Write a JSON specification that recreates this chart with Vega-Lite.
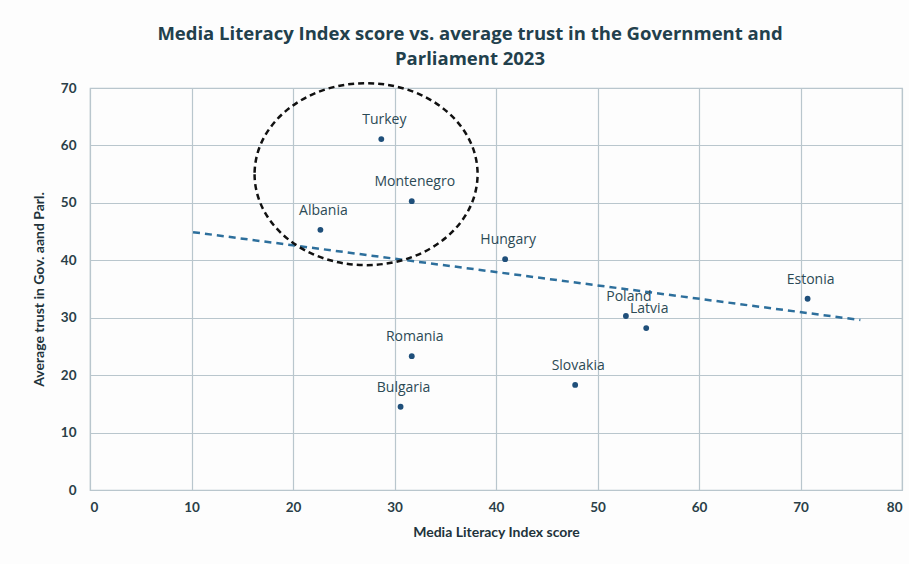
{
  "$schema": "https://vega.github.io/schema/vega-lite/v6.json",
  "width": 812,
  "height": 402,
  "autosize": {"type": "none"},
  "padding": {"left": 90, "top": 88, "right": 7, "bottom": 74},
  "background": "#fdfdfd",
  "title": {
    "text": ["Media Literacy Index score vs. average trust in the Government and", "Parliament 2023"],
    "font": "Open Sans",
    "fontSize": 18.5,
    "fontWeight": "bold",
    "color": "#22404c",
    "anchor": "middle",
    "dx": -26,
    "offset": 10,
    "lineHeight": 25
  },
  "config": {
    "view": {"stroke": "#b9c6cd", "strokeWidth": 1.2},
    "axis": {
      "labelFont": "Lato",
      "labelFontSize": 13.5,
      "labelFontWeight": "bold",
      "labelColor": "#2a3f48",
      "titleFont": "Lato",
      "titleFontSize": 14,
      "titleFontWeight": "bold",
      "titleColor": "#22333b",
      "gridColor": "#b9c6cd",
      "gridWidth": 1.2,
      "gridOpacity": 1,
      "domain": false,
      "ticks": false
    }
  },
  "datasets": {
    "countries": [
      {"country": "Turkey", "mli": 28.7, "trust": 61.1},
      {"country": "Montenegro", "mli": 31.7, "trust": 50.3},
      {"country": "Albania", "mli": 22.7, "trust": 45.3},
      {"country": "Hungary", "mli": 40.9, "trust": 40.2},
      {"country": "Estonia", "mli": 70.7, "trust": 33.3},
      {"country": "Poland", "mli": 52.8, "trust": 30.3},
      {"country": "Latvia", "mli": 54.8, "trust": 28.2},
      {"country": "Romania", "mli": 31.7, "trust": 23.3},
      {"country": "Slovakia", "mli": 47.8, "trust": 18.3},
      {"country": "Bulgaria", "mli": 30.6, "trust": 14.5}
    ],
    "trend": [
      {"mli": 10.15, "trust": 44.9},
      {"mli": 75.9, "trust": 29.6}
    ],
    "ellipse": [
      {"mli": 27.2, "trust": 55.0}
    ]
  },
  "layer": [
    {
      "data": {"name": "trend"},
      "mark": {"type": "line", "color": "#2d6f9c", "strokeWidth": 2.5, "strokeDash": [7, 5]},
      "encoding": {
        "x": {"field": "mli", "type": "quantitative", "scale": {"domain": [0, 80], "nice": false}, "axis": {"values": [0, 10, 20, 30, 40, 50, 60, 70, 80], "title": "Media Literacy Index score", "labelPadding": 10, "titlePadding": 12}},
        "y": {"field": "trust", "type": "quantitative", "scale": {"domain": [0, 70], "nice": false}, "axis": {"values": [0, 10, 20, 30, 40, 50, 60, 70], "title": "Average trust in Gov. aand Parl.", "labelPadding": 14, "titlePadding": 14}}
      }
    },
    {
      "data": {"name": "ellipse"},
      "mark": {"type": "point", "shape": "M -1 0 A 1 0.816 0 1 0 1 0 A 1 0.816 0 1 0 -1 0 Z", "filled": false, "size": 49729, "stroke": "#111111", "strokeWidth": 2.5, "strokeDash": [6, 4], "opacity": 1},
      "encoding": {
        "x": {"field": "mli", "type": "quantitative"},
        "y": {"field": "trust", "type": "quantitative"}
      }
    },
    {
      "data": {"name": "countries"},
      "mark": {"type": "circle", "size": 34, "color": "#1f4f7a", "opacity": 1},
      "encoding": {
        "x": {"field": "mli", "type": "quantitative"},
        "y": {"field": "trust", "type": "quantitative"}
      }
    },
    {
      "data": {"name": "countries"},
      "mark": {"type": "text", "font": "Open Sans", "fontSize": 14, "color": "#2c4a55", "dy": -19, "dx": 3},
      "encoding": {
        "x": {"field": "mli", "type": "quantitative"},
        "y": {"field": "trust", "type": "quantitative"},
        "text": {"field": "country"}
      }
    }
  ]
}
